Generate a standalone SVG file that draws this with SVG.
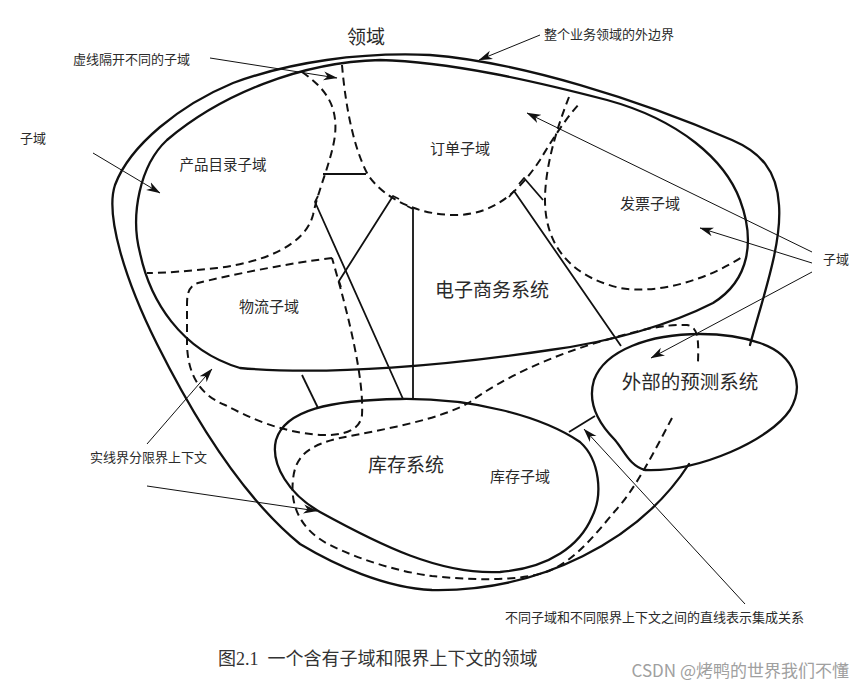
<svg xmlns="http://www.w3.org/2000/svg" width="864" height="688" viewBox="0 0 864 688">
<defs>
<style>
.bd{fill:none;stroke:#111;stroke-width:2.3;stroke-linejoin:round;stroke-linecap:round}
.ds{fill:none;stroke:#111;stroke-width:2;stroke-dasharray:8 5}
.il{fill:none;stroke:#111;stroke-width:1.8;stroke-linejoin:round}
.ar{fill:none;stroke:#111;stroke-width:1}
.t{font-family:"Noto Sans CJK SC","Noto Sans",sans-serif;fill:#2a2a2a;dominant-baseline:central}
.sm{font-size:13px}
.sd{font-size:15px}
.sys{font-size:19px}
</style>
<marker id="ah" viewBox="0 0 14 10" refX="13.5" refY="5" markerWidth="14" markerHeight="10" markerUnits="userSpaceOnUse" orient="auto">
<path d="M0,0.5 L14,5 L0,9.5 L4,5 Z" fill="#111"/>
</marker>
</defs>
<rect width="864" height="688" fill="#fff"/>

<g id="domain">
<path class="bd" d="M750,345 C762,300 782,245 779,205 C777,170 760,152 732,140 C640,100 520,62 430,55 C360,52 290,62 233,83 C180,105 130,145 115,185 C105,215 125,280 157,344 C190,410 240,495 300,544 C335,565 385,588 432,590 C540,592 640,540 689,464"/>
<text class="t sys" x="366" y="35" text-anchor="middle">领域</text>
</g>

<g id="ecommerce-system">
<path class="bd" d="M380,60 C300,62 220,95 167,140 C140,165 130,215 140,253 C150,300 180,350 240,368 C330,376 450,365 550,350 C610,342 670,325 713,303 C750,280 755,240 740,200 C725,160 680,120 607,100 C530,80 450,62 380,60 Z"/>
<text class="t sys" x="492" y="288" text-anchor="middle">电子商务系统</text>
</g>

<g id="product-catalog-subdomain">
<path class="ds" d="M302,72 C325,88 338,105 335,135 C332,160 318,190 313,215 C305,245 265,262 217,268 C190,271 165,273 147,273"/>
<text class="t sd" x="223" y="163" text-anchor="middle" style="font-size:14.5px">产品目录子域</text>
</g>

<g id="order-subdomain">
<path class="ds" d="M342,65 C345,100 352,145 368,175 C385,200 420,215 455,215 C495,215 520,190 540,160 C552,140 566,118 580,103"/>
<text class="t sd" x="460" y="147" text-anchor="middle">订单子域</text>
</g>

<g id="invoice-subdomain">
<path class="ds" d="M569,97 C558,125 545,165 545,200 C545,240 565,275 620,288 C660,295 710,278 742,257"/>
<text class="t sd" x="650" y="202" text-anchor="middle">发票子域</text>
</g>

<g id="logistics-subdomain">
<path class="ds" d="M332,258 C290,263 230,275 198,283 C188,286 187,295 187,305 L187,345 C188,375 200,395 225,405 C250,418 280,432 320,435 C345,436 360,430 362,415 C364,380 350,320 332,258"/>
<text class="t sd" x="269" y="305" text-anchor="middle">物流子域</text>
</g>

<g id="inventory-system">
<path class="bd" d="M276,440 C285,410 330,400 400,399 C470,398 540,415 580,442 C600,460 603,495 592,517 C580,545 550,568 500,572 C440,575 380,545 320,512 C290,495 270,465 276,440 Z"/>
<text class="t sys" x="406" y="463" text-anchor="middle">库存系统</text>
</g>

<g id="inventory-subdomain">
<path class="ds" d="M672,418 C655,450 635,490 615,511 C595,535 575,560 549,571 C520,582 470,580 432,576 C400,572 360,560 330,545 C300,530 290,505 293,480 C295,455 310,445 340,438 C380,430 440,420 470,402 C500,380 550,355 613,338 C640,330 665,324 687,325 C697,327 699,335 698,362"/>
<text class="t sd" x="520" y="475" text-anchor="middle">库存子域</text>
</g>

<g id="forecasting-system">
<path class="bd" d="M700,334 C650,334 605,350 594,380 C588,400 595,420 615,440 C625,452 630,466 645,470 C700,472 770,440 790,410 C805,385 795,355 760,343 C740,336 720,334 700,334 Z"/>
<text class="t sys" x="690" y="380" text-anchor="middle" style="font-size:19.5px">外部的预测系统</text>
</g>

<g id="connectors">
<path class="il" d="M323,174 L366,174"/>
<path class="il" d="M519,184 L524,178 L543,200"/>
<path class="il" d="M509,197 L514,191 L621,346"/>
<path class="il" d="M399,199 L393,196 L339,281 L341,287"/>
<path class="il" d="M318,196 L315,202 L403,399"/>
<path class="il" d="M407,206 L413,209 L413,399"/>
<path class="il" d="M302,375 L318,408"/>
<path class="il" d="M569,432 L595,416"/>

<path class="ar" marker-end="url(#ah)" d="M210,58 L337,78"/>
<path class="ar" marker-end="url(#ah)" d="M93,153 L160,193"/>
<path class="ar" marker-end="url(#ah)" d="M540,35 L479,60"/>
<path class="ar" marker-end="url(#ah)" d="M812,252 L527,113"/>
<path class="ar" marker-end="url(#ah)" d="M812,263 L700,228"/>
<path class="ar" marker-end="url(#ah)" d="M812,272 L651,358"/>
<path class="ar" marker-end="url(#ah)" d="M147,444 L212,369"/>
<path class="ar" marker-end="url(#ah)" d="M147,486 L317,511"/>
<path class="ar" marker-end="url(#ah)" d="M745,604 L584,429"/>
</g>

<g id="annotations">
<text class="t sm" x="73" y="58">虚线隔开不同的子域</text>
<text class="t sm" x="20" y="137">子域</text>
<text class="t sm" x="544" y="33">整个业务领域的外边界</text>
<text class="t sm" x="823" y="258">子域</text>
<text class="t sm" x="90" y="456">实线界分限界上下文</text>
<text class="t sm" x="505" y="616">不同子域和不同限界上下文之间的直线表示集成关系</text>
<text class="t" x="218" y="659" style="font-family:'Liberation Serif','Noto Sans CJK SC',serif;font-size:18px;fill:#333">图2.1&#160;&#160;一个含有子域和限界上下文的领域</text>
<text class="t" x="849" y="669" text-anchor="end" style="font-size:17px;fill:#a0a0a0">CSDN @烤鸭的世界我们不懂</text>
</g>
</svg>
